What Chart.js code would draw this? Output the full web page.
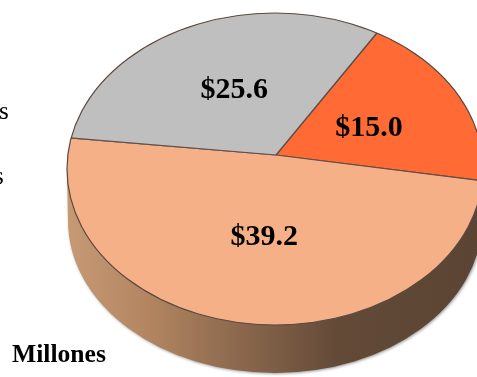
<!DOCTYPE html>
<html>
<head>
<meta charset="utf-8">
<style>
	html, body { margin: 0; padding: 0; background: #fff; overflow: hidden; }
	canvas { display: block; }
</style>
<script src="https://cdn.jsdelivr.net/npm/chart.js@4/dist/chart.umd.min.js"></script>
</head>
<body>
<canvas id="grafico1" width="477" height="377"></canvas>
<script>
"use strict";

const sliceNames = ["Naranja", "Durazno", "Gris"];
const sliceValues = [15.0, 39.2, 25.6];
const sliceColors = ["#ff6a35", "#f6b088", "#bfbfbf"];
const unitLabel = "Millones";
const legendTails = ["s", "s"];

// tilted disc, the apex sits above the middle of the outline
const disc = { cx: 275, cy: 169, rx: 208, ry: 156 };
const wall = { cx: 275, cy: 221, rx: 207, ry: 152 };
const apex = { x: 276, y: 155 };
const tilt = 0.75;

function discPath(c, d) {
	c.beginPath();
	c.ellipse(d.cx, d.cy, d.rx, d.ry, 0, 0, Math.PI * 2);
}

function drawWall(c) {
	const grad = c.createLinearGradient(disc.cx - disc.rx, 0, disc.cx + disc.rx, 0);
	grad.addColorStop(0, "#c69a74");
	grad.addColorStop(0.2, "#b28560");
	grad.addColorStop(0.42, "#8a674d");
	grad.addColorStop(0.65, "#634a37");
	grad.addColorStop(1, "#5b4434");

	c.save();
	c.shadowColor = "rgba(90, 90, 90, 0.6)";
	c.shadowBlur = 3;
	c.shadowOffsetX = 1;
	c.shadowOffsetY = 1;
	c.beginPath();
	c.ellipse(wall.cx, wall.cy, wall.rx, wall.ry, 0, 0, Math.PI);
	c.lineTo(disc.cx - disc.rx, disc.cy);
	c.lineTo(disc.cx + disc.rx, disc.cy);
	c.closePath();
	c.fillStyle = grad;
	c.fill();
	c.restore();
}

const tiltedPie = {
	id: "tiltedPie",
	beforeDatasetsDraw(chart) {
		const c = chart.ctx;
		const arc = chart.getDatasetMeta(0).data[0];
		const s = 300 / arc.outerRadius;

		drawWall(c);

		c.save();
		discPath(c, disc);
		c.clip();
		c.translate(apex.x, apex.y);
		c.scale(s, s * tilt);
		c.translate(-arc.x, -arc.y);
	},
	afterDatasetsDraw(chart) {
		const c = chart.ctx;
		c.restore();

		discPath(c, disc);
		c.strokeStyle = "#5a4a40";
		c.lineWidth = 1.2;
		c.stroke();

		c.fillStyle = "#000";
		c.textAlign = "center";
		c.textBaseline = "middle";
		c.font = "bold 30px 'Liberation Serif'";
		chart.getDatasetMeta(0).data.forEach((arc, i) => {
			const mid = (arc.startAngle + arc.endAngle) / 2;
			const x = apex.x + 2 + Math.cos(mid) * 100;
			const y = apex.y + 5 + Math.sin(mid) * 78;
			c.fillText("$" + sliceValues[i].toFixed(1), x, y);
		});

		c.textAlign = "left";
		c.textBaseline = "alphabetic";
		c.font = "bold 25.6px 'Liberation Serif'";
		c.fillText(unitLabel, 12, 362);

		c.font = "25px 'Liberation Serif'";
		c.fillText(legendTails[0], -1, 119);
		c.fillText(legendTails[1], -6, 184);
	},
};

const ctx = document.getElementById("grafico1");

let chart1 = new Chart(ctx, {
	type: "pie",
	data: {
		labels: sliceNames,
		datasets: [
			{
				data: sliceValues,
				backgroundColor: sliceColors,
				borderColor: "#5f5048",
				borderWidth: 1,
				clip: false,
			},
		],
	},
	options: {
		responsive: false,
		animation: false,
		rotation: 31.8,
		plugins: {
			legend: { display: false },
			tooltip: { enabled: false },
		},
	},
	plugins: [tiltedPie],
});
</script>
</body>
</html>
